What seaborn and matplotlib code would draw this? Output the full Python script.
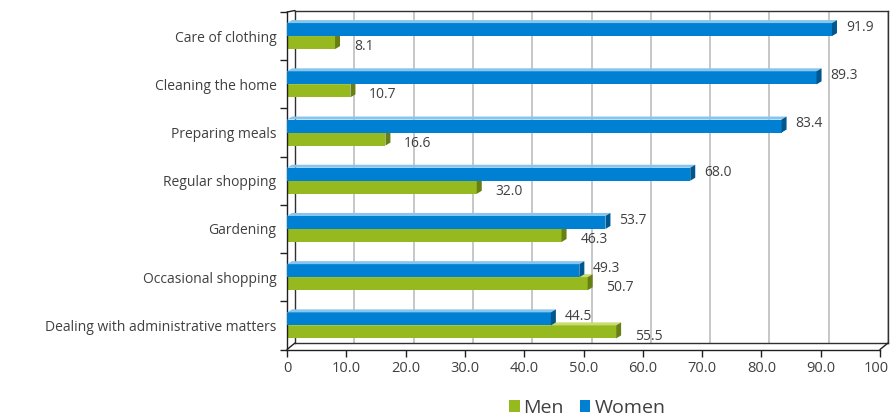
import numpy as np
import pandas as pd
import matplotlib
matplotlib.use("Agg")
import matplotlib.pyplot as plt
import seaborn as sns
from matplotlib.patches import Polygon, Patch
from matplotlib.lines import Line2D
from matplotlib.transforms import IdentityTransform, Affine2D

categories = ["Care of clothing", "Cleaning the home", "Preparing meals",
              "Regular shopping", "Gardening", "Occasional shopping",
              "Dealing with administrative matters"]
women = [91.9, 89.3, 83.4, 68.0, 53.7, 49.3, 44.5]
men = [8.1, 10.7, 16.6, 32.0, 46.3, 50.7, 55.5]
x_ticks = [0, 10, 20, 30, 40, 50, 60, 70, 80, 90, 100]
x_tick_labels = ["0", "10.0", "20.0", "30.0", "40.0", "50.0", "60.0",
                 "70.0", "80.0", "90.0", "100"]

BLUE, BLUE_TOP, BLUE_SIDE = "#0080D2", "#86C5EE", "#00578F"
GREEN, GREEN_TOP, GREEN_SIDE = "#95B91E", "#C8DC72", "#687F14"
TXT = "#404040"

sns.set_theme(style="white")
plt.rcParams["font.family"] = ["Open Sans", "DejaVu Sans"]

df = pd.DataFrame({
    "category": categories * 2,
    "value": women + men,
    "series": ["Women"] * len(women) + ["Men"] * len(men),
})

W, H = 890, 420
fig = plt.figure(figsize=(8.9, 4.2), dpi=100)


def px(l, t, r, b):
    return [l / W, 1 - b / H, (r - l) / W, (b - t) / H]


# back wall
ax_back = fig.add_axes(px(295, 10.5, 888, 343))
ax_back.set_xlim(0, 100)
ax_back.set_ylim(0, 1)
ax_back.set_xticks(x_ticks)
ax_back.set_yticks([])
ax_back.tick_params(length=0, labelbottom=False)
ax_back.grid(axis="x", color="#BDBDBD", lw=1.2)
for s in ax_back.spines.values():
    s.set_visible(True)
    s.set_color("#303030")
    s.set_linewidth(1.0)
ax_back.set_facecolor("white")

# front axes with bars
ax = fig.add_axes(px(287, 12, 880, 349.5))
ax.set_facecolor("none")
sns.barplot(data=df, x="value", y="category", hue="series",
            hue_order=["Women", "Men"], order=categories,
            palette={"Women": BLUE, "Men": GREEN}, saturation=1,
            width=0.54, orient="h", ax=ax, legend=False, linewidth=0)
ax.set_xlim(0, 100)
ax.set_ylim(len(categories) - 0.5, -0.5)
ax.set_xlabel("")
ax.set_ylabel("")
ax.set_xticks(x_ticks, x_tick_labels)
ax.set_yticks(range(len(categories)), categories)
ax.set_yticks(np.arange(-0.5, len(categories), 1), minor=True)
ax.tick_params(axis="y", which="major", length=0, pad=7.5, labelsize=10, labelcolor=TXT)
ax.tick_params(axis="y", which="minor", left=True, length=5, width=1, color="#202020", direction="out")
ax.tick_params(axis="x", bottom=True, length=5, width=1, color="#202020", direction="out",
               pad=3, labelsize=10.5, labelcolor=TXT)
for side in ["top", "right"]:
    ax.spines[side].set_visible(False)
for side in ["left", "bottom"]:
    ax.spines[side].set_color("#202020")
    ax.spines[side].set_linewidth(1.0)

# keep last tick label inside the figure
last = ax.get_xticklabels()[-1]
last.set_horizontalalignment("right")
last.set_transform(last.get_transform() + Affine2D().translate(9, 0))

# 3D faces
dx, dy = 5, 3
styles = {0: (BLUE, BLUE_TOP, BLUE_SIDE, 3), 1: (GREEN, GREEN_TOP, GREEN_SIDE, 2)}
for ci, cont in enumerate(ax.containers):
    front, topc, sidec, z = styles[ci]
    for bar in cont:
        bar.set_zorder(z)
        x0, y0, w, h = bar.get_x(), bar.get_y(), bar.get_width(), bar.get_height()
        (xl, ya), (xr, yb2) = ax.transData.transform([(x0, y0), (x0 + w, y0 + h)])
        yt, yb = max(ya, yb2), min(ya, yb2)
        top = Polygon([(xl, yt), (xr, yt), (xr + dx, yt + dy), (xl + dx, yt + dy)],
                      closed=True, facecolor=topc, edgecolor="none",
                      transform=IdentityTransform(), zorder=z + 0.1)
        side = Polygon([(xr, yb), (xr, yt), (xr + dx, yt + dy), (xr + dx, yb + dy)],
                       closed=True, facecolor=sidec, edgecolor="none",
                       transform=IdentityTransform(), zorder=z + 0.1)
        ax.add_patch(top)
        ax.add_patch(side)

# value labels
for ci, cont in enumerate(ax.containers):
    for bar in cont:
        v = bar.get_width()
        yc = bar.get_y() + bar.get_height() / 2
        if ci == 0:
            off = (10, 1.5)
        else:
            off = (13.5, -3)
        ax.annotate(f"{v:.1f}", xy=(v, yc), xytext=off, textcoords="offset points",
                    ha="left", va="center", fontsize=10, color=TXT, zorder=5)

# 3D frame diagonals
disp = IdentityTransform()
pairs = [((0, 1), (0, 1)), ((0, 0), (0, 0)), ((1, 0), (1, 0))]
for fa, ba in pairs:
    p1 = ax.transAxes.transform(fa)
    p2 = ax_back.transAxes.transform(ba)
    fig.add_artist(Line2D([p1[0], p2[0]], [p1[1], p2[1]], color="#202020", lw=1.0,
                          transform=disp))

# legend
handles = [Patch(facecolor=GREEN, edgecolor="none", label="Men"),
           Patch(facecolor=BLUE, edgecolor="none", label="Women")]
fig.legend(handles=handles, loc="center", bbox_to_anchor=(587 / W, 1 - 408 / H),
           ncol=2, frameon=False, fontsize=14, handlelength=0.56, handleheight=0.56,
           handletextpad=0.2, columnspacing=0.8, labelcolor=TXT)

fig.savefig("out.png", dpi=100)
